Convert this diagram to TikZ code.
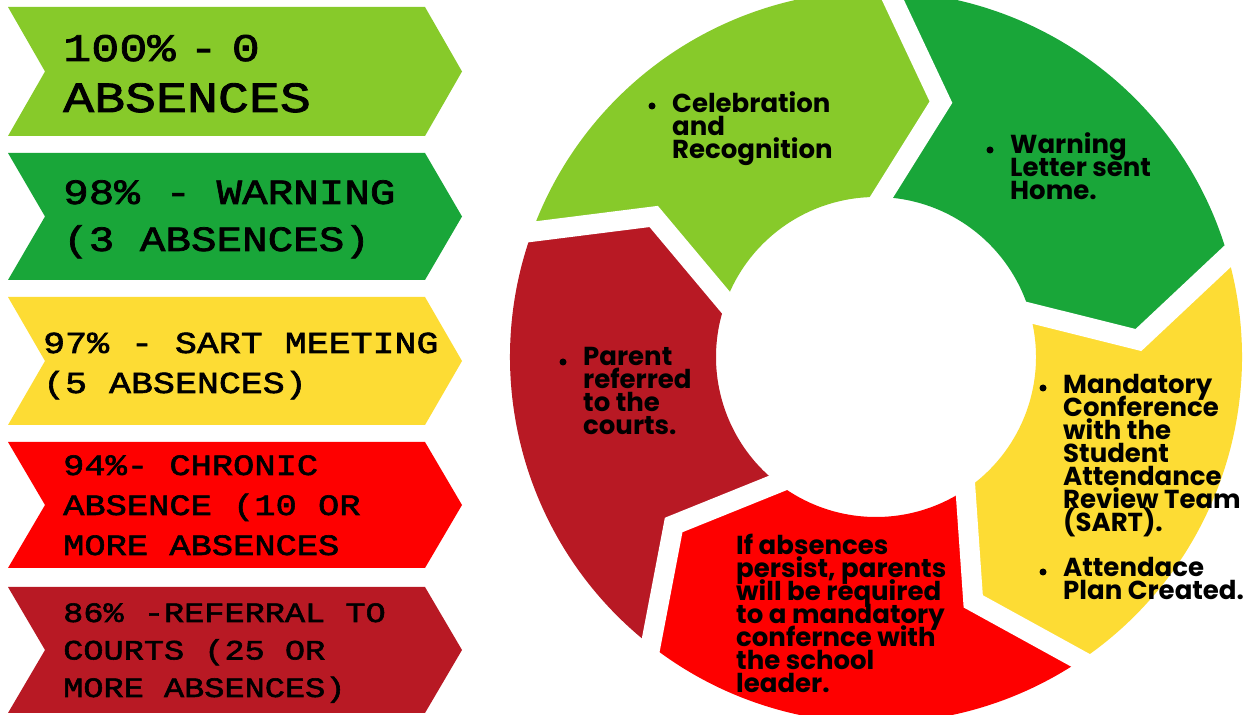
\documentclass[tikz,border=0pt]{standalone}
\usepackage{fontspec}
\newfontfamily\bannerfont{Liberation Mono}[FakeBold=2, FakeStretch=1.2]
\newfontfamily\ringfont{Poppins}
\usetikzlibrary{calc}
\definecolor{lgreen}{HTML}{87CA2A}
\definecolor{dgreen}{HTML}{19A639}
\definecolor{yel}{HTML}{FDDC34}
\definecolor{redA}{HTML}{FE0000}
\definecolor{dred}{HTML}{B81924}
\newcommand\tightlines{\lineskiplimit=-100pt\relax}
\newcommand\bannershape[3]{\fill[#1] (8,#2) -- (425,#2) -- (462,{(#2+#3)/2}) -- (425,#3) -- (8,#3) -- (45,{(#2+#3)/2}) -- cycle;}
\newcommand\ringseg[3]{\fill[#1] (#2:366) arc[start angle=#2, end angle=#3, radius=366] -- ({#3-12.3}:263) -- (#3:160) arc[start angle=#3, end angle=#2, radius=160] -- ({#2-12.3}:263) -- cycle;}
\tikzset{
  ringtext/.style={font=\ringfont\bfseries\fontsize{26}{23}\selectfont\tightlines, align=left, inner sep=0pt, anchor=base west, text=black},
  bantext/.style={align=left, inner sep=0pt, anchor=base west, text=black},
  dot/.style={circle, fill=black, inner sep=0pt, minimum size=7pt},
}
\begin{document}
\lineskiplimit=-100pt
\begin{tikzpicture}[x=1pt,y=1pt]
\useasboundingbox (0,0) rectangle (1259,715);
\clip (0,0) rectangle (1259,715);
\fill[white] (0,0) rectangle (1259,715);
% banners
\bannershape{lgreen}{708}{579}
\bannershape{dgreen}{562}{435}
\bannershape{yel}{418}{290}
\bannershape{redA}{273}{147}
\bannershape{dred}{128}{2}
\node[bantext, font=\bannerfont\fontsize{43}{51}\selectfont\tightlines] (l1) at (63,603) {{\fontsize{39}{51}\selectfont 100\%\hspace{-14pt} - \hspace{-14pt}0}\\ABSENCES};
\node[bantext, font=\bannerfont\fontsize{35.5}{47}\selectfont\tightlines] (l2) at (63,464) {98\% - WARNING\\(3 ABSENCES)};
\node[bantext, font=\bannerfont\fontsize{30.5}{40}\selectfont\tightlines] (l3) at (43,322) {97\% - SART MEETING\\(5 ABSENCES)};
\node[bantext, font=\bannerfont\fontsize{29.5}{40}\selectfont\tightlines] (l4) at (63,160) {94\%- CHRONIC\\ABSENCE (10 OR\\MORE ABSENCES};
\node[bantext, font=\bannerfont\fontsize{28}{37.5}\selectfont\tightlines] (l5) at (63,18) {86\% -REFERRAL TO\\COURTS (25 OR\\MORE ABSENCES)};
% ring
\begin{scope}[shift={(876,358)}]
\ringseg{lgreen}{160}{88}
\ringseg{dgreen}{88}{16}
\ringseg{yel}{16}{-56}
\ringseg{redA}{-56}{-128}
\ringseg{dred}{-128}{-200}
\foreach \b in {88,16,-56,-128,160}{
  \draw[white, line width=20, line join=miter]
    ($(\b:366)!-0.3!({\b-12.3}:263)$) -- ({\b-12.3}:263) -- ($(\b:160)!-0.3!({\b-12.3}:263)$);
}
\end{scope}
% ring texts
\node[dot] (d1) at (652,609) {};
\node[ringtext] (t1) at (672,556) {Celebration\\and\\Recognition};
\node[dot] (d2) at (990,565) {};
\node[ringtext] (t2) at (1010,515) {Warning\\Letter sent\\Home.};
\node[dot] (d3) at (1043,327) {};
\node[ringtext] (t3) at (1063,183) {Mandatory\\Conference\\with the\\Student\\Attendance\\Review Team\\(SART).};
\node[dot] (d4) at (1043,143) {};
\node[ringtext] (t4) at (1063,115) {Attendace\\Plan Created.};
\node[dot] (d5) at (563,353) {};
\node[ringtext] (t5) at (583,280) {Parent\\referred\\to the\\courts.};
\node[ringtext] (t6) at (736,22) {If absences\\persist, parents\\will be required\\to a mandatory\\confernce with\\the school\\leader.};
\end{tikzpicture}
\end{document}
